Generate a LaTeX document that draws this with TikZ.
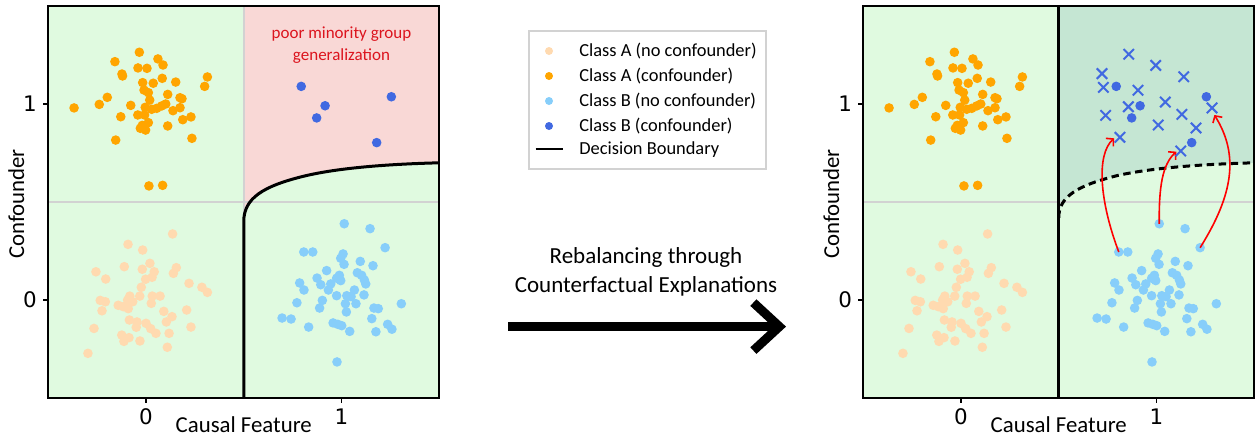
\documentclass[tikz,border=0pt]{standalone}
\usepackage{fontspec}
\setmainfont{Carlito}
\newfontfamily\tickfont{DejaVu Sans}
\usetikzlibrary{arrows.meta,positioning}

\definecolor{bgGreen}{RGB}{224,250,224}
\definecolor{bgPink}{RGB}{249,216,214}
\definecolor{bgTeal}{RGB}{197,230,211}
\definecolor{peach}{RGB}{255,218,176}
\definecolor{orangeA}{RGB}{255,165,0}
\definecolor{skyB}{RGB}{135,206,250}
\definecolor{royalB}{RGB}{65,105,225}
\definecolor{gridGray}{RGB}{210,210,210}
\definecolor{noteRed}{RGB}{220,20,30}

% point clouds, in data units
\def\ptsAn{0.136/0.337, -0.092/0.284, -0.017/0.255, 0.020/0.187, -0.111/0.170, -0.256/0.144, -0.206/0.107, -0.019/0.157, 0.042/0.144, 0.155/0.165, 0.140/0.136, -0.002/0.106, 0.031/0.116, 0.220/0.085, 0.286/0.065, 0.314/0.039, -0.024/0.065, -0.083/0.020, -0.094/0.000, -0.068/-0.009, -0.032/0.020, 0.032/0.020, 0.072/0.020, -0.234/-0.002, -0.208/-0.009, -0.142/-0.027, -0.116/-0.034, -0.091/-0.044, 0.027/-0.017, -0.225/-0.055, 0.091/-0.058, 0.208/-0.051, 0.133/-0.085, -0.085/-0.102, -0.046/-0.112, 0.000/-0.119, 0.104/-0.112, -0.266/-0.145, -0.050/-0.139, 0.024/-0.146, 0.051/-0.170, 0.230/-0.138, 0.118/-0.170, -0.124/-0.179, -0.087/-0.192, -0.113/-0.211, -0.031/-0.209, 0.109/-0.241, -0.297/-0.272}
\def\ptsAc{-0.034/1.264, -0.159/1.216, 0.061/1.230, 0.087/1.199, -0.041/1.184, 0.005/1.182, -0.123/1.153, -0.120/1.143, 0.083/1.131, 0.152/1.112, 0.314/1.138, 0.300/1.090, -0.017/1.109, 0.037/1.106, -0.010/1.071, 0.012/1.058, 0.111/1.049, 0.174/1.032, 0.184/1.027, -0.198/1.034, -0.239/0.998, -0.368/0.980, -0.078/0.993, 0.019/1.020, -0.004/0.983, 0.029/0.973, 0.055/0.978, 0.080/0.990, 0.101/1.000, 0.174/0.981, 0.138/0.966, -0.129/0.935, -0.042/0.944, -0.007/0.944, 0.230/0.934, 0.188/0.920, 0.012/0.905, -0.019/0.891, -0.029/0.876, -0.002/0.867, 0.111/0.888, -0.155/0.816, 0.235/0.825, 0.015/0.582, 0.085/0.585}
\def\ptsBn{1.014/0.389, 1.146/0.364, 0.807/0.245, 0.853/0.245, 1.223/0.267, 1.008/0.235, 0.996/0.213, 1.013/0.182, 1.096/0.197, 1.161/0.175, 0.924/0.150, 1.081/0.139, 1.103/0.126, 1.117/0.102, 1.124/0.082, 0.875/0.112, 0.989/0.126, 0.975/0.111, 0.996/0.099, 0.786/0.087, 0.808/0.051, 0.894/0.078, 0.945/0.082, 0.933/0.051, 1.066/0.051, 1.115/0.026, 0.975/0.022, 1.027/0.022, 1.049/0.017, 0.902/-0.002, 0.772/-0.014, 1.020/-0.019, 1.074/-0.019, 1.306/-0.019, 0.888/-0.041, 1.166/-0.041, 1.188/-0.044, 1.025/-0.061, 0.696/-0.092, 0.742/-0.097, 1.155/-0.095, 0.957/-0.117, 0.981/-0.124, 1.001/-0.131, 0.832/-0.138, 1.236/-0.124, 1.258/-0.149, 1.042/-0.160, 1.176/-0.162, 0.977/-0.316}
\def\ptsBc{0.794/1.090, 0.916/0.991, 0.873/0.929, 1.255/1.037, 1.180/0.803}
\def\ptsBx{0.858/1.254, 0.996/1.197, 0.721/1.155, 1.139/1.139, 0.728/1.085, 0.905/1.070, 1.045/1.010, 0.856/0.986, 1.284/0.980, 0.740/0.942, 1.130/0.947, 1.009/0.893, 1.202/0.878, 0.813/0.830, 1.124/0.760}

\newcommand{\clouds}{%
  \foreach \x/\y in \ptsAn {\fill[peach] (\x,\y) circle[radius=2.4pt];}
  \foreach \x/\y in \ptsAc {\fill[orangeA] (\x,\y) circle[radius=2.4pt];}
  \foreach \x/\y in \ptsBn {\fill[skyB] (\x,\y) circle[radius=2.4pt];}
  \foreach \x/\y in \ptsBc {\fill[royalB] (\x,\y) circle[radius=2.4pt];}
}
\newcommand{\axisframe}[1]{%
  \draw[frameline] (-0.5,-0.5) rectangle (1.5,1.5);
  \foreach \t in {0,1}{
    \draw[frameline] (\t,-0.5) -- ++(0pt,-2.5pt);
    \draw[frameline] (-0.5,\t) -- ++(-2.5pt,0pt);
    \node[ticklabel,anchor=north] (#1-x\t) at ([yshift=-5pt]\t,-0.5) {\t};
    \node[ticklabel,anchor=east] (#1-y\t) at ([xshift=-5.5pt]-0.5,\t) {\t};
  }
  \node[axlabel,anchor=north] (#1-xlab) at ([yshift=-9.3pt]0.5,-0.5) {Causal Feature};
  \node[axlabel,rotate=90] (#1-ylab) at ([xshift=-16pt]-0.5,0.49) {Confounder};
}

\begin{document}
\begin{tikzpicture}[x=1pt, y=1pt]
    \tikzstyle{frameline}=[black, line width=0.8pt]
    \tikzstyle{gridline}=[gridGray, line width=0.75pt]
    \tikzstyle{boundary}=[black, line width=1.5pt]
    \tikzstyle{ticklabel}=[inner sep=0pt, font=\tickfont\fontsize{10.7}{12}\selectfont]
    \tikzstyle{axlabel}=[inner sep=0pt, font=\fontsize{11.4}{13.7}\selectfont]
    \tikzstyle{legtext}=[inner sep=0pt, anchor=west, font=\fontsize{9.2}{11}\selectfont]
    \tikzstyle{cfarrow}=[red, line width=0.8pt, -{Straight Barb[length=2.5pt,width=5.5pt]}]
    \tikzstyle{crossB}=[royalB, line width=1pt]

    \useasboundingbox (0,0) rectangle (628,218);

    % before
    \begin{scope}[shift={(73pt,68pt)}, x=97.75pt, y=98pt]
        \fill[bgGreen] (-0.5,-0.5) rectangle (1.5,1.5);
        \fill[bgPink] (0.5,1.5) -- (0.5,0.40) .. controls (0.5,0.52) and (0.6,0.58) .. (0.8,0.63)
            .. controls (1.0,0.68) and (1.3,0.695) .. (1.5,0.70) -- (1.5,1.5) -- cycle;
        \draw[gridline] (-0.5,0.5) -- (1.5,0.5) (0.5,-0.5) -- (0.5,1.5);
        \clouds
        \draw[boundary] (0.5,-0.5) -- (0.5,0.40) .. controls (0.5,0.52) and (0.6,0.58) .. (0.8,0.63)
            .. controls (1.0,0.68) and (1.3,0.695) .. (1.5,0.70);
        \node[text=noteRed, align=center, inner sep=0pt, font=\fontsize{8.5}{10.7}\selectfont]
            (minority) at (1.0,1.30) {poor minority group\\generalization};
        \axisframe{L}
    \end{scope}

    % legend
    \draw[gridGray, line width=0.6pt] (264.5,133.5) rectangle (383,202.5);
    \fill[peach]   (274.5,192.5) circle[radius=2pt];
    \fill[orangeA] (274.5,180.0) circle[radius=2pt];
    \fill[skyB]    (274.5,167.5) circle[radius=2pt];
    \fill[royalB]  (274.5,155.0) circle[radius=2pt];
    \draw[black, line width=1pt] (267.8,143.3) -- (281.3,143.3);
    \node[legtext] (legAn) at (289.5,192.5) {Class A (no confounder)};
    \node[legtext] (legAc) at (289.5,180.0) {Class A (confounder)};
    \node[legtext] (legBn) at (289.5,167.5) {Class B (no confounder)};
    \node[legtext] (legBc) at (289.5,155.0) {Class B (confounder)};
    \node[legtext] (legDB) at (289.5,143.3) {Decision Boundary};

    % rebalancing step
    \node[align=center, inner sep=0pt, font=\fontsize{11.5}{14.3}\selectfont]
        (rebal) at (323,82) {Rebalancing through\\Counterfactual Explanations};
    \coordinate (arrL) at (254,54.7);
    \coordinate (arrR) at (393,54.7);
    \draw[line width=4.5pt, -{Straight Barb[length=13pt 0,width=24pt 0]}] (arrL) -- (arrR);

    % after
    \begin{scope}[shift={(480.5pt,68pt)}, x=97.75pt, y=98pt]
        \fill[bgGreen] (-0.5,-0.5) rectangle (1.5,1.5);
        \fill[bgTeal] (0.5,1.5) -- (0.5,0.42) .. controls (0.5,0.53) and (0.6,0.585) .. (0.8,0.635)
            .. controls (1.0,0.68) and (1.3,0.695) .. (1.5,0.70) -- (1.5,1.5) -- cycle;
        \draw[gridline] (-0.5,0.5) -- (1.5,0.5);
        \clouds
        \draw[boundary, dash pattern=on 3.7pt off 2.3pt] (0.5,0.42) .. controls (0.5,0.53) and (0.6,0.585) .. (0.8,0.635)
            .. controls (1.0,0.68) and (1.3,0.695) .. (1.5,0.70);
        \draw[boundary] (0.5,-0.5) -- (0.5,1.5);
        \coordinate (src1) at (0.807,0.245);
        \coordinate (src2) at (1.014,0.389);
        \coordinate (src3) at (1.223,0.267);
        \coordinate (cf1) at (0.783,0.825);
        \coordinate (cf2) at (1.101,0.757);
        \coordinate (cf3) at (1.296,0.944);
        \draw[cfarrow] (src1) .. controls (0.71,0.50) and (0.69,0.74) .. (cf1);
        \draw[cfarrow] (src2) .. controls (1.012,0.58) and (1.03,0.69) .. (cf2);
        \draw[cfarrow] (src3) .. controls (1.393,0.538) and (1.423,0.740) .. (cf3);
        \foreach \x/\y in \ptsBx {
            \draw[crossB] (\x,\y) +(-2.6pt,-2.6pt) -- +(2.6pt,2.6pt) +(-2.6pt,2.6pt) -- +(2.6pt,-2.6pt);
        }
        \axisframe{R}
    \end{scope}
\end{tikzpicture}
\end{document}
